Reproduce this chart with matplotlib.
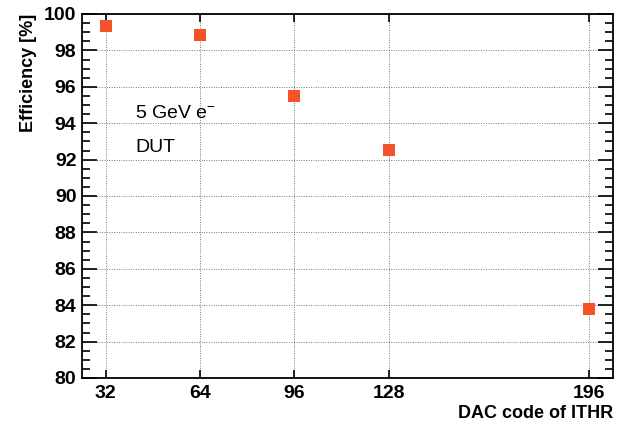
import matplotlib
matplotlib.use("Agg")
import matplotlib.pyplot as plt
from matplotlib.ticker import MultipleLocator

# DAC code of ITHR vs detection efficiency
ithr = [32, 64, 96, 128, 196]
efficiency = [99.33, 98.82, 95.50, 92.52, 83.78]

plt.rcParams['font.family'] = ['Liberation Sans', 'DejaVu Sans']
plt.rcParams['mathtext.fontset'] = 'custom'
plt.rcParams['mathtext.rm'] = 'Liberation Sans'
plt.rcParams['mathtext.it'] = 'Liberation Sans'

W, H = 623, 422
fig = plt.figure(figsize=(W / 100, H / 100), dpi=100)
ax = fig.add_axes([82 / W, 1 - 378 / H, 531 / W, 364 / H])

ax.plot(ithr, efficiency, linestyle='none', marker='s', markersize=8,
        color='#f4532a', markeredgewidth=0, zorder=3)

ax.set_xlim(24, 204)
ax.set_ylim(80, 100)
ax.set_xticks(ithr)
ax.yaxis.set_major_locator(MultipleLocator(2))
ax.yaxis.set_minor_locator(MultipleLocator(0.5))

ax.grid(True, which='major', color='#777777', linestyle=(0, (1, 1.5)), linewidth=0.7)
ax.tick_params(which='both', direction='in', top=True, right=True, width=1.2)
ax.tick_params(axis='y', which='major', length=11, labelsize=14, pad=4)
ax.tick_params(axis='y', which='minor', length=5.5)
ax.tick_params(axis='x', which='major', length=6, labelsize=14, pad=5)
for lab in ax.get_xticklabels() + ax.get_yticklabels():
    lab.set_fontweight('bold')
for sp in ax.spines.values():
    sp.set_linewidth(1.3)

ax.set_ylabel('Efficiency [%]', fontsize=13, fontweight='bold', loc='top', labelpad=5)
ax.set_xlabel('DAC code of ITHR', fontsize=13, fontweight='bold', loc='right', labelpad=2)

ax.text(135 / W, 1 - 118 / H, r'5 GeV e$^{-}$', transform=fig.transFigure, fontsize=14)
ax.text(135 / W, 1 - 152 / H, 'DUT', transform=fig.transFigure, fontsize=14)

fig.savefig('out.png', dpi=100)
